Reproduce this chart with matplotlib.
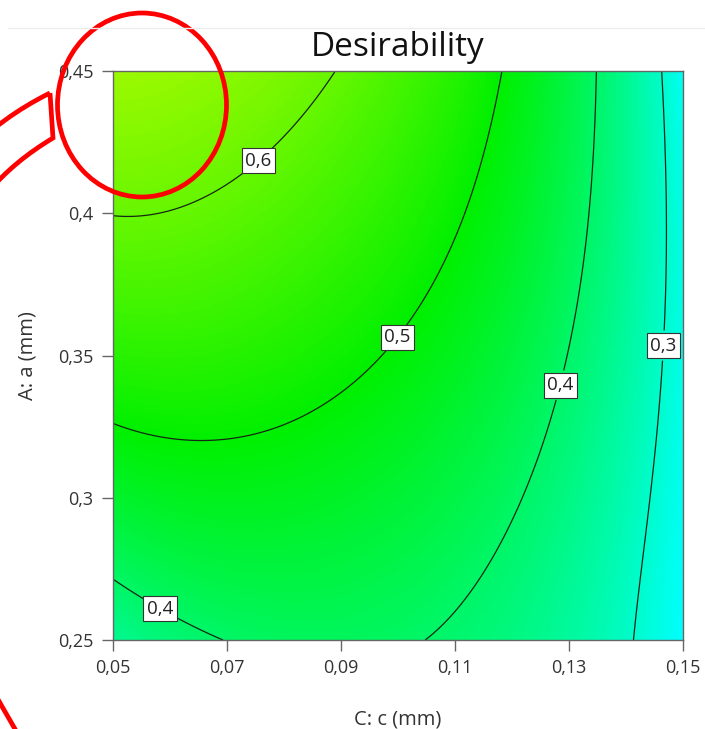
#!/usr/bin/env python3
"""
Desirability contour plot (Design-Expert style) rebuilt with matplotlib.

Contour points were read off the reference picture; a polynomial response
surface is fitted through them and drawn as shading + contour lines.

Outputs:
- out.png
"""
import numpy as np
import matplotlib
matplotlib.use('Agg')  # Non-interactive backend
import matplotlib.pyplot as plt
from matplotlib.colors import LinearSegmentedColormap
from matplotlib.patches import Ellipse, PathPatch
from matplotlib.path import Path
from matplotlib.ticker import FuncFormatter
from matplotlib.transforms import Affine2D

# Factor ranges
c_range = [0.05, 0.15]   # C: c (mm)
a_range = [0.25, 0.45]   # A: a (mm)

x_ticks = [0.05, 0.07, 0.09, 0.11, 0.13, 0.15]
y_ticks = [0.25, 0.30, 0.35, 0.40, 0.45]
levels = [0.3, 0.4, 0.5, 0.6]

# Points on each contour line (c, a)
c_06 = [0.050, 0.0618, 0.0741, 0.0828, 0.0898]
a_06 = [0.398, 0.4044, 0.4152, 0.4328, 0.450]

c_05 = [0.050, 0.0583, 0.0688, 0.0828, 0.0934, 0.0998, 0.1056, 0.1127, 0.1179]
a_05 = [0.3256, 0.3214, 0.3203, 0.3273, 0.3396, 0.3565, 0.3765, 0.4117, 0.450]

c_04 = [0.1346, 0.1351, 0.1337, 0.1284, 0.1214, 0.1127, 0.1047,
        0.050, 0.0591, 0.0705]
a_04 = [0.450, 0.4293, 0.3871, 0.3396, 0.2992, 0.2711, 0.250,
        0.2693, 0.2623, 0.250]

c_03 = [0.1463, 0.1469, 0.1465, 0.1451, 0.1434, 0.1411]
a_03 = [0.450, 0.4092, 0.3695, 0.3168, 0.2781, 0.250]

# Extra values estimated from the shading colour
c_extra = [0.05, 0.15, 0.15, 0.0875, 0.05]
a_extra = [0.45, 0.45, 0.25, 0.25, 0.30]
d_extra = [0.65, 0.26, 0.25, 0.414, 0.452]


def coded(c, a):
    X = (np.asarray(c) - 0.10) / 0.05
    Y = (np.asarray(a) - 0.35) / 0.10
    return X, Y


def terms(X, Y, order=4):
    cols = [X ** i * Y ** j for i in range(order + 1)
            for j in range(order + 1 - i)]
    return np.column_stack(cols)


def fit_surface():
    cs, as_, ds = [], [], []
    for c, a, d in [(c_06, a_06, 0.6), (c_05, a_05, 0.5),
                    (c_04, a_04, 0.4), (c_03, a_03, 0.3)]:
        cs += c
        as_ += a
        ds += [d] * len(c)
    cs += c_extra
    as_ += a_extra
    ds += d_extra
    X, Y = coded(cs, as_)
    A = terms(X, Y)
    # small ridge term keeps the quartic well behaved between the lines
    lam = 1e-4
    coef = np.linalg.solve(A.T @ A + lam * np.eye(A.shape[1]), A.T @ np.array(ds))
    return coef


def comma(v, pos=None):
    return f'{v:g}'.replace('.', ',')


coef = fit_surface()
cg = np.linspace(c_range[0], c_range[1], 301)
ag = np.linspace(a_range[0], a_range[1], 301)
CC, AA = np.meshgrid(cg, ag)
XX, YY = coded(CC.ravel(), AA.ravel())
DD = (terms(XX, YY) @ coef).reshape(CC.shape)

plt.rcParams['font.family'] = ['Open Sans', 'DejaVu Sans']

fig = plt.figure(figsize=(7.05, 7.29), dpi=100)
ax = fig.add_axes([113 / 705, 89 / 729, 570 / 705, 569 / 729])

cmap = LinearSegmentedColormap.from_list(
    'de', [(0, '#0000ff'), (0.25, '#00ffff'), (0.5, '#00f000'),
           (0.75, '#ffff00'), (1, '#ff0000')])
ax.pcolormesh(CC, AA, DD, cmap=cmap, vmin=0, vmax=1, shading='gouraud')
cs = ax.contour(CC, AA, DD, levels=levels, colors='#142814', linewidths=0.9)

label_pos = [(0.0749, 0.4198), (0.0998, 0.3565), (0.1284, 0.3396),
             (0.0591, 0.2640), (0.1465, 0.3535)]
labels = ax.clabel(cs, fmt=lambda v: f'{v:.1f}'.replace('.', ','),
                   fontsize=13.5, colors='#222222', inline=True,
                   inline_spacing=2, manual=label_pos)
for t in labels:
    t.set_rotation(0)
    t.set_bbox(dict(boxstyle='square,pad=0.18', facecolor='white',
                    edgecolor='#333333', linewidth=0.8))

ax.set_xlim(c_range)
ax.set_ylim(a_range)
ax.set_xticks(x_ticks)
ax.set_yticks(y_ticks)
ax.xaxis.set_major_formatter(FuncFormatter(comma))
ax.yaxis.set_major_formatter(FuncFormatter(comma))
ax.tick_params(direction='out', length=8, width=1, color='#666666',
               labelsize=13, labelcolor='#333333', pad=6)
for sp in ax.spines.values():
    sp.set_color('#666666')
    sp.set_linewidth(1)

ax.set_xlabel('C: c (mm)', fontsize=14.5, color='#333333', labelpad=23)
ax.set_ylabel('A: a (mm)', fontsize=14.5, color='#333333', labelpad=15)
ax.set_title('Desirability', fontsize=24, color='#111111', pad=11)

# Annotation marks drawn in pixel coordinates of the picture
px = Affine2D().scale(1 / 100, -1 / 100).translate(0, 7.29) + fig.dpi_scale_trans
fig.add_artist(plt.Line2D([8, 705], [28, 28], transform=px,
                          color='#ececec', linewidth=1))
fig.add_artist(Ellipse((142, 105), 169, 184, transform=px, fill=False,
                       edgecolor='#ff0000', linewidth=3.4, clip_on=False))
verts = [(50, 93), (-84, 160), (-115, 280), (-115, 436),
         (-115, 600), (-80, 700), (-20, 800),
         (40, 760), (15, 729), (-50, 616), (-70, 586), (-70, 436),
         (-70, 286), (-50, 200), (53, 138), (50, 93)]
codes = [Path.MOVETO, Path.CURVE4, Path.CURVE4, Path.CURVE4,
         Path.CURVE4, Path.CURVE4, Path.CURVE4,
         Path.MOVETO, Path.LINETO, Path.CURVE4, Path.CURVE4, Path.CURVE4,
         Path.CURVE4, Path.CURVE4, Path.CURVE4, Path.LINETO]
fig.add_artist(PathPatch(Path(verts, codes), transform=px, fill=False,
                         edgecolor='#ff0000', linewidth=3.4, clip_on=False))

plt.savefig('out.png', dpi=100)
plt.close()
